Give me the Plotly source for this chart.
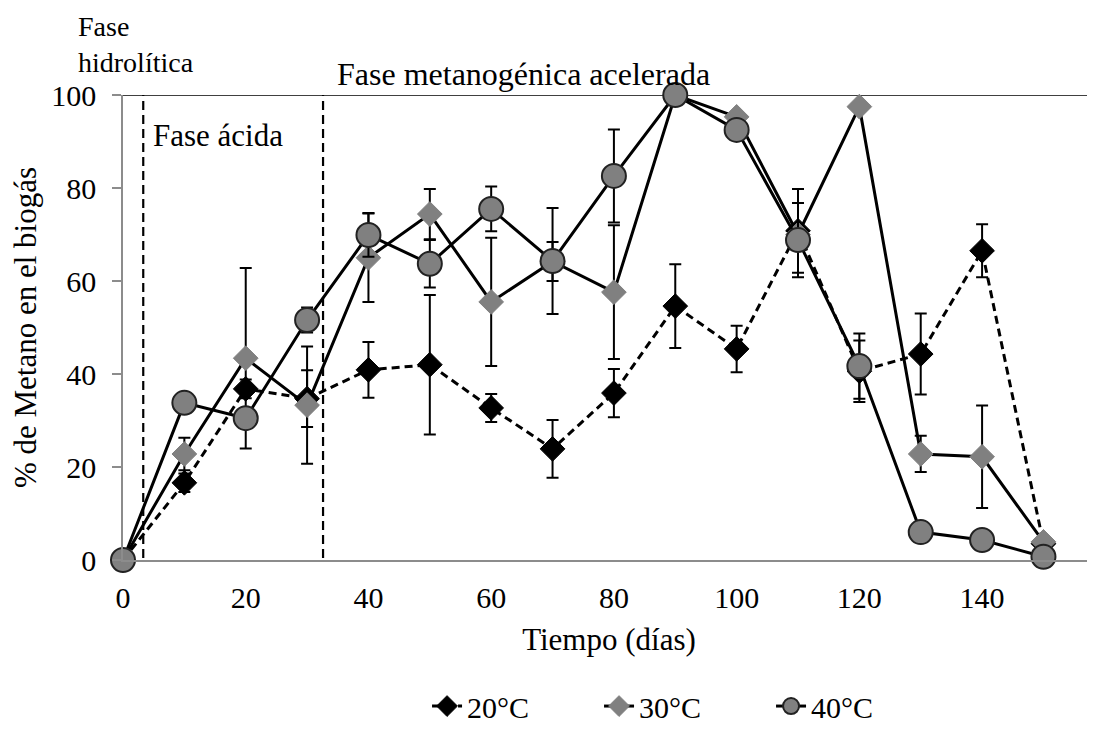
import plotly.graph_objects as go

dias = [0, 10, 20, 30, 40, 50, 60, 70, 80, 90, 100, 110, 120, 130, 140, 150]

t20 = [0, 16.6, 36.8, 34.7, 40.9, 42.0, 32.7, 23.9, 35.9, 54.6, 45.4, 70.8, 40.6, 44.3, 66.5, 3.5]
e20 = [0, 2.0, 2.0, 6.1, 6.0, 15.0, 3.0, 6.2, 5.2, 9.0, 5.0, 9.0, 6.6, 8.7, 5.7, 0]

t30 = [0, 22.8, 43.4, 33.3, 65.0, 74.4, 55.5, 64.2, 57.6, 100, 95.3, 70.0, 97.5, 22.8, 22.2, 3.9]
e30 = [0, 3.5, 19.4, 12.6, 9.5, 5.4, 13.8, 4.2, 14.4, 0, 0, 0, 0, 3.9, 11.0, 0]

t40 = [0, 33.8, 30.5, 51.6, 69.9, 63.7, 75.5, 64.3, 82.6, 100, 92.5, 68.8, 41.7, 6.0, 4.3, 0.7]
e40 = [0, 0, 0, 2.7, 4.7, 5.1, 4.8, 11.4, 10.0, 0, 0, 8.0, 7.0, 0, 0, 0]

xticks = [0, 20, 40, 60, 80, 100, 120, 140]
yticks = [0, 20, 40, 60, 80, 100]
fases = [3.3, 32.6]

FONT = "Liberation Serif, 'Times New Roman', Times, serif"
GRAY = "#808080"
AXIS = "#8c8c8c"

fig = go.Figure()

def err(arr):
    return dict(type="data", array=arr, visible=True, color="black",
                thickness=2, width=6)

fig.add_trace(go.Scatter(
    x=dias, y=t20, name="20°C", mode="lines+markers",
    line=dict(color="black", width=3, dash="8px,5px"),
    marker=dict(symbol="diamond", size=19, color="black",
                line=dict(color="black", width=1)),
    error_y=err(e20), cliponaxis=False))

fig.add_trace(go.Scatter(
    x=dias, y=t30, name="30°C", mode="lines+markers",
    line=dict(color="black", width=3),
    marker=dict(symbol="diamond", size=19, color=GRAY,
                line=dict(color=GRAY, width=1)),
    error_y=err(e30), cliponaxis=False))

fig.add_trace(go.Scatter(
    x=dias, y=t40, name="40°C", mode="lines+markers",
    line=dict(color="black", width=3),
    marker=dict(symbol="circle", size=24, color=GRAY,
                line=dict(color="#222222", width=2)),
    error_y=err(e40), cliponaxis=False))

for fx in fases:
    fig.add_shape(type="line", xref="x", yref="y", x0=fx, x1=fx,
                  y0=-2.6, y1=100, line=dict(color="black", width=2.2, dash="9px,5px"),
                  layer="below")

# top line at 100
fig.add_shape(type="line", xref="paper", yref="y", x0=0, x1=1, y0=100, y1=100,
              line=dict(color="black", width=1.5), layer="below")

fig.add_annotation(text="Fase<br>hidrolítica", xref="paper", yref="paper",
                   x=-0.048, y=1.108, xanchor="left", yanchor="middle", align="left",
                   showarrow=False, font=dict(family=FONT, size=28, color="black"))
fig.add_annotation(text="Fase ácida", xref="x", yref="paper",
                   x=4.6, y=0.912, xanchor="left", yanchor="middle",
                   showarrow=False, font=dict(family=FONT, size=31, color="black"))
fig.add_annotation(text="Fase metanogénica acelerada", xref="x", yref="paper",
                   x=34.6, y=1.045, xanchor="left", yanchor="middle",
                   showarrow=False, font=dict(family=FONT, size=32, color="black"))

fig.update_layout(
    width=1087, height=724,
    margin=dict(l=115, r=0, t=87, b=172, autoexpand=False),
    paper_bgcolor="white", plot_bgcolor="white",
    font=dict(family=FONT, size=30, color="black"),
    showlegend=True,
    legend=dict(orientation="h", x=0.3128, y=-0.37, xanchor="left", yanchor="bottom",
                font=dict(family=FONT, size=30, color="black"),
                entrywidth=127, entrywidthmode="pixels", tracegroupgap=0,
                bgcolor="rgba(0,0,0,0)"),
    xaxis=dict(range=[0, 158.4], tickmode="array", tickvals=xticks,
               showgrid=False, zeroline=False, showline=True, linecolor=AXIS,
               linewidth=1.5, ticks="", ticklabelstandoff=10, automargin=False,
               tickfont=dict(family=FONT, size=30),
               title=dict(text="Tiempo (días)", standoff=16,
                          font=dict(family=FONT, size=31))),
    yaxis=dict(range=[0, 100], tickmode="array", tickvals=yticks,
               showgrid=False, zeroline=False, showline=True, linecolor=AXIS,
               linewidth=1.5, ticks="outside", ticklen=9, tickcolor=AXIS,
               tickwidth=1.5, ticklabelstandoff=10, automargin=False,
               tickfont=dict(family=FONT, size=30),
               title=dict(text="% de Metano en el biogás", standoff=15,
                          font=dict(family=FONT, size=31))),
)

fig.write_html("out.html")
